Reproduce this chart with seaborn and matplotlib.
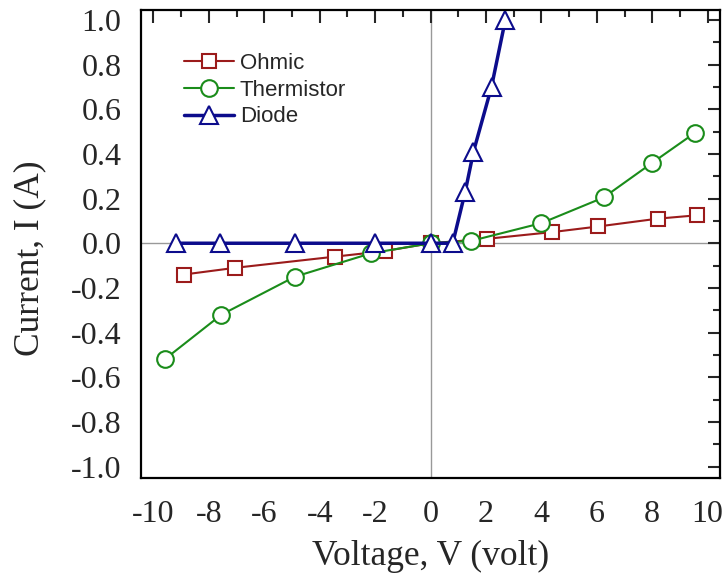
import numpy as np
import pandas as pd
import seaborn as sns
import matplotlib.pyplot as plt
from matplotlib.ticker import MultipleLocator

# Dados
ohm_v = [-8.9, -7.05, -3.45, -1.65, 0.0, 2.05, 4.4, 6.05, 8.2, 9.6]
ohm_i = [-0.14, -0.11, -0.06, -0.035, 0.0, 0.02, 0.05, 0.075, 0.11, 0.125]

ter_v = [-9.6, -7.55, -4.9, -2.15, 0.0, 1.45, 4.0, 6.25, 8.0, 9.55]
ter_i = [-0.52, -0.32, -0.15, -0.045, 0.0, 0.01, 0.09, 0.205, 0.36, 0.495]

dio_v = [-9.2, -7.6, -4.9, -2.0, 0.0, 0.8, 1.25, 1.55, 2.2, 2.7]
dio_i = [0.0, 0.0, 0.0, 0.0, 0.0, 0.0, 0.23, 0.41, 0.70, 1.0]

xticks = [-10, -8, -6, -4, -2, 0, 2, 4, 6, 8, 10]
yticks = [-1.0, -0.8, -0.6, -0.4, -0.2, 0.0, 0.2, 0.4, 0.6, 0.8, 1.0]

sns.set_style("white")
plt.rcParams["font.family"] = ["Liberation Serif", "DejaVu Serif"]

fig = plt.figure(figsize=(7.23, 5.75), dpi=100)
ax = fig.add_axes([0.195, 0.169, 0.801, 0.814])

ax.axvline(0, color="#999999", lw=1, zorder=0)
ax.axhline(0, color="#999999", lw=1, zorder=0)

series = [
    ("Ohmic", ohm_v, ohm_i, "#9b1b1b", "s", 10, 1.5),
    ("Thermistor", ter_v, ter_i, "#1a8c1a", "o", 12, 1.5),
    ("Diode", dio_v, dio_i, "#0c0c8c", "^", 13, 2.5),
]
for nome, v, i, cor, mk, ms, lw in series:
    db = pd.DataFrame({"V": v, "I": i})
    sns.lineplot(data=db, x="V", y="I", ax=ax, sort=False, color=cor, lw=lw,
                 marker=mk, markersize=ms, markerfacecolor="white",
                 markeredgecolor=cor, markeredgewidth=1.5, label=nome)

ax.set_xlim(-10.45, 10.45)
ax.set_ylim(-1.05, 1.045)
ax.set_xticks(xticks)
ax.set_xticklabels([f"{t:d}" for t in xticks])
ax.set_yticks(yticks)
ax.set_yticklabels([f"{t:.1f}" for t in yticks])
ax.xaxis.set_minor_locator(MultipleLocator(1))
ax.yaxis.set_minor_locator(MultipleLocator(0.1))
ax.tick_params(which="both", direction="in", top=True, right=True,
               labelsize=23, width=1.5)
ax.tick_params(which="major", length=9)
ax.tick_params(which="minor", length=5)
ax.tick_params(axis="x", which="major", pad=16)
ax.tick_params(axis="y", which="major", pad=14)
for s in ax.spines.values():
    s.set_linewidth(1.6)
    s.set_color("black")

ax.set_xlabel("Voltage, V (volt)", fontsize=25.5, labelpad=8)
ax.set_ylabel("Current, I (A)", fontsize=25.5)
ax.yaxis.set_label_coords(-0.163, 0.47)

leg = ax.legend(loc="upper left", bbox_to_anchor=(0.04, 0.95), frameon=False,
                prop={"family": "Liberation Sans", "size": 16},
                handlelength=2.25, handletextpad=0.25, labelspacing=0.25)

fig.savefig("out.png", dpi=100)
